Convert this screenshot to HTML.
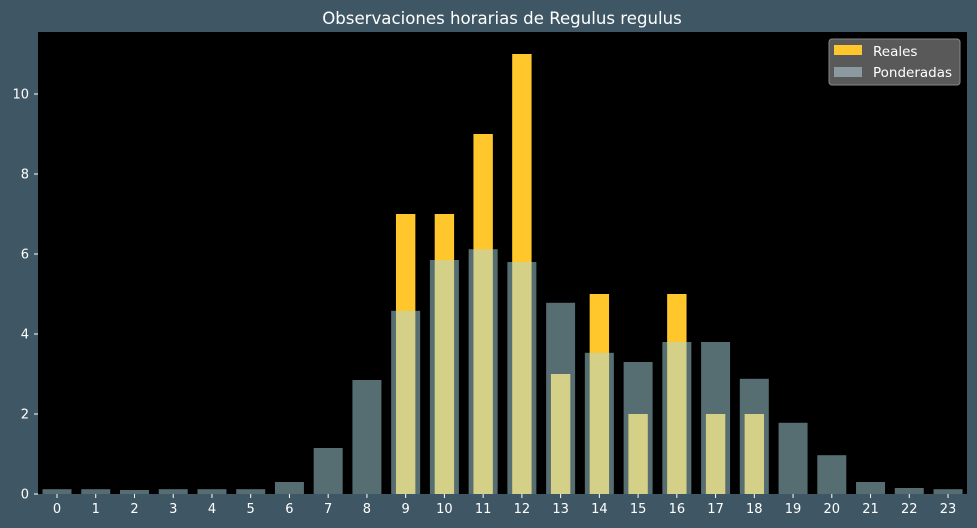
<!DOCTYPE html>
<html><head><meta charset="utf-8"><style>
body{margin:0;background:#3f5764;}
svg{display:block;font-family:"DejaVu Sans","Liberation Sans",sans-serif;}
</style></head><body>
<svg id="chart" width="977" height="528">
<rect x="0" y="0" width="977" height="528" fill="#3f5764"/>
<text x="502" y="24" fill="#fff" font-size="16.6" text-anchor="middle">Observaciones horarias de Regulus regulus</text>
<rect x="38" y="32" width="929" height="462" fill="#000"/>
<g id="bars"></g>
<g id="axes"></g>
<g>
<rect x="829" y="39" width="131" height="46" rx="3" fill="#595959" stroke="#888"/>
<rect x="834" y="45" width="28" height="10" fill="#ffc72c"/>
<text x="873" y="56" fill="#fff" font-size="13.5">Reales</text>
<rect x="834" y="67" width="28" height="10" fill="#8a9a9e"/>
<text x="873" y="77" fill="#fff" font-size="13.5">Ponderadas</text>
</g>
</svg>
<script>
const hours=[0,1,2,3,4,5,6,7,8,9,10,11,12,13,14,15,16,17,18,19,20,21,22,23];
const reales=[0,0,0,0,0,0,0,0,0,7,7,9,11,3,5,2,5,2,2,0,0,0,0,0];
const ponderadas=[0.12,0.12,0.1,0.12,0.12,0.12,0.3,1.15,2.85,4.58,5.85,6.12,5.8,4.78,3.53,3.3,3.8,3.8,2.88,1.78,0.97,0.3,0.15,0.12];
const yTicks=[0,2,4,6,8,10];
const NS="http://www.w3.org/2000/svg";
const xS=h=>57+h*38.74;
const yS=v=>494-v*40;
const bars=document.getElementById('bars'),axes=document.getElementById('axes');
function mk(tag,attrs,parent){const e=document.createElementNS(NS,tag);for(const k in attrs)e.setAttribute(k,attrs[k]);parent.appendChild(e);return e;}
hours.forEach((h,i)=>{
 if(reales[i]>0){
  const r=mk('rect',{x:xS(h)-9.7,y:yS(reales[i]),width:19.4,height:yS(0)-yS(reales[i]),fill:'#ffc72c'},bars);
  
  
 }
});
hours.forEach((h,i)=>{
  const r=mk('rect',{x:xS(h)-14.5,y:yS(ponderadas[i]),width:29,height:yS(0)-yS(ponderadas[i]),fill:'rgba(172,218,226,0.5)'},bars);
  
  
});
hours.forEach(h=>{
  mk('line',{x1:xS(h),x2:xS(h),y1:494,y2:498,stroke:'#fff'},axes);
  const t=mk('text',{x:xS(h),y:513,fill:'#fff','font-size':13,'text-anchor':'middle'},axes);
  t.textContent=h;
  
  
});
yTicks.forEach(v=>{
  mk('line',{x1:34,x2:38,y1:yS(v),y2:yS(v),stroke:'#fff'},axes);
  const t=mk('text',{x:29,y:yS(v)+4.5,fill:'#fff','font-size':13,'text-anchor':'end'},axes);
  t.textContent=v;
  
  
});
</script>
</body></html>
